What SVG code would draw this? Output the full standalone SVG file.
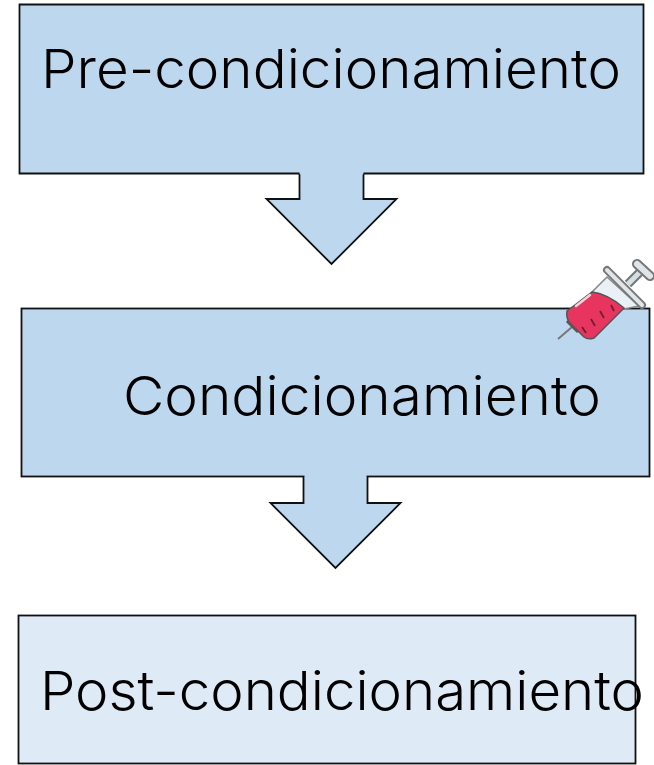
<svg xmlns="http://www.w3.org/2000/svg" width="654" height="765" viewBox="0 0 654 765">
<style>
.s{stroke:#111;stroke-width:1.8;stroke-linejoin:miter}
.d{fill:#bdd7ee}
.l{fill:#deeaf6}
text{font-family:"Inter","DejaVu Sans",sans-serif;font-weight:300;font-size:54px;fill:#000}
</style>
<defs><filter id="b" x="-10%" y="-10%" width="120%" height="120%"><feGaussianBlur stdDeviation="0.6"/></filter></defs>
<rect width="654" height="765" fill="#fff"/>
<g id="connectors">
<path class="s d" d="M299.500 173.500V199H266.500L331.500 264L396.500 199H363.500V173.500"/>
<path class="s d" d="M303.500 477V503H270.500L335.500 568L400.500 503H367.500V477"/>
</g>
<g id="node-pre">
<path class="s d" d="M299.500 173.500H19.500V4.500H643.500V173.500H363.500"/>
<path class="d" d="M300.500 171h62v4h-62z"/>
<text x="41" y="88" textLength="580" lengthAdjust="spacingAndGlyphs">Pre-condicionamiento</text>
</g>
<g id="node-cond">
<rect class="s d" x="21.500" y="308.500" width="628" height="168"/>
<path class="d" d="M304.500 474h62v4h-62z"/>
<text x="123" y="415" textLength="478" lengthAdjust="spacingAndGlyphs">Condicionamiento</text>
</g>
<g id="node-post">
<rect class="s l" x="18.500" y="615.500" width="617" height="148"/>
<text x="40" y="710" textLength="604" lengthAdjust="spacingAndGlyphs">Post-condicionamiento</text>
</g>
<g id="syringe" filter="url(#b)">
<path d="M558 339L572 327" stroke="#777" stroke-width="2" fill="none"/>
<path d="M567 322L574 315L584 325L577 332Z" fill="#e8365e" stroke="#555" stroke-width="1.500"/>
<path d="M628 284L640 272" stroke="#777" stroke-width="9"/>
<path d="M628 284L640 272" stroke="#d5e0e6" stroke-width="5"/>
<path d="M592 292L607 277L639 306L624 309Q605 294 592 292Z" fill="#e9f1f7" stroke="#888" stroke-width="1.500"/>
<path d="M567 311L592 292Q608 294 624 308L594 338Q588 340 584 337L569 322Q566 317 567 311Z" fill="#e8365e" stroke="#555" stroke-width="1.500"/>
<path d="M576 306L590 295" stroke="#f9d0da" stroke-width="2.500" stroke-linecap="round"/>
<path d="M586 333l-4-6M595 326l-4-7M604 318l-4-7M614 311l-3-6" stroke="#6b2030" stroke-width="1.800" fill="none"/>
<path d="M607 270L642 305" stroke="#777" stroke-width="8" stroke-linecap="round"/>
<path d="M607 270L642 305" stroke="#dfe5e9" stroke-width="4" stroke-linecap="round"/>
<path d="M637 264L650 276" stroke="#777" stroke-width="10" stroke-linecap="round"/>
<path d="M637 264L650 276" stroke="#dfe5e9" stroke-width="6" stroke-linecap="round"/>
</g>
</svg>
